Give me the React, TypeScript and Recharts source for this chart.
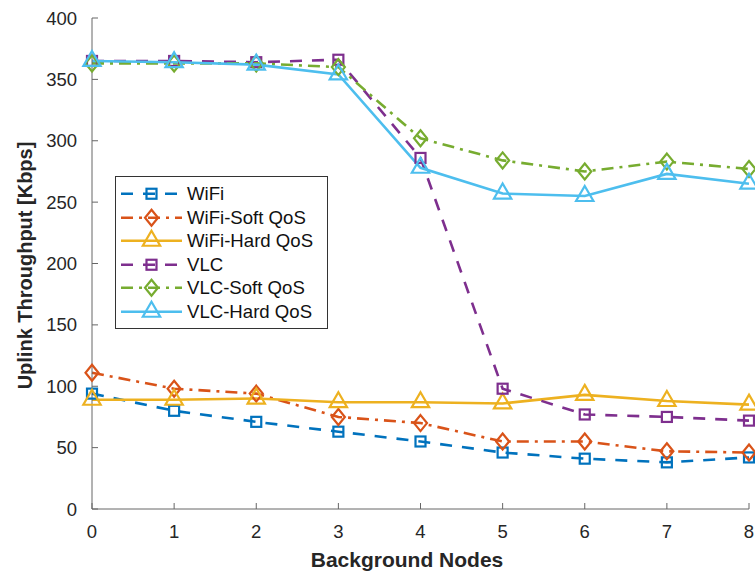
import React from 'react';
import { LineChart, Line, XAxis, YAxis, Legend } from 'recharts';

const nodes = [0, 1, 2, 3, 4, 5, 6, 7, 8];
const wifi = [94, 80, 71, 63, 55, 46, 41, 38, 42];
const wifiSoft = [111, 98, 94, 75, 70, 55, 55, 47, 46];
const wifiHard = [89, 89, 90, 87, 87, 86, 93, 88, 85];
const vlc = [365, 365, 364, 366, 286, 98, 77, 75, 72];
const vlcSoft = [363, 363, 363, 360, 302, 284, 275, 283, 277];
const vlcHard = [365, 364, 362, 354, 278, 257, 255, 273, 265];

const xTicks = [0, 1, 2, 3, 4, 5, 6, 7, 8];
const yTicks = [0, 50, 100, 150, 200, 250, 300, 350, 400];

const seriesNames = ['WiFi', 'WiFi-Soft QoS', 'WiFi-Hard QoS', 'VLC', 'VLC-Soft QoS', 'VLC-Hard QoS'];
const seriesKeys = ['wifi', 'wifiSoft', 'wifiHard', 'vlc', 'vlcSoft', 'vlcHard'];
const seriesValues = [wifi, wifiSoft, wifiHard, vlc, vlcSoft, vlcHard];
const seriesColors = ['#0072BD', '#D95319', '#EDB120', '#7E2F8E', '#77AC30', '#4DBEEE'];
const seriesDash = ['12 10', '12 6 3 6', undefined, '12 10', '12 6 3 6', undefined];
const seriesMarker = ['square', 'diamond', 'triangle', 'square', 'diamond', 'triangle'];

const data = nodes.map((n, i) => {
  const row: any = { n };
  seriesKeys.forEach((k, j) => {
    row[k] = seriesValues[j][i];
  });
  return row;
});

const FONT = '"Liberation Sans", Arial, Helvetica, sans-serif';

function Marker({ shape, cx, cy, color }: { shape: string; cx: number; cy: number; color: string }) {
  const sw = 2.2;
  if (shape === 'square') {
    const h = 5;
    return <rect x={cx - h} y={cy - h} width={2 * h} height={2 * h} fill="none" stroke={color} strokeWidth={sw} />;
  }
  if (shape === 'diamond') {
    const h = 8;
    const w = 6.5;
    return (
      <polygon
        points={`${cx},${cy - h} ${cx + w},${cy} ${cx},${cy + h} ${cx - w},${cy}`}
        fill="none"
        stroke={color}
        strokeWidth={sw}
      />
    );
  }
  const r = 10;
  return (
    <polygon
      points={`${cx},${cy - r} ${cx + r * 0.866},${cy + r * 0.5} ${cx - r * 0.866},${cy + r * 0.5}`}
      fill="none"
      stroke={color}
      strokeWidth={sw}
    />
  );
}

function LegendBox() {
  return (
    <div
      style={{
        width: 211,
        height: 146,
        border: '1px solid #333',
        background: '#fff',
        paddingTop: 5,
        boxSizing: 'content-box',
        fontFamily: FONT,
        fontSize: 18.6,
        color: '#111',
      }}
    >
      {seriesNames.map((name, i) => (
        <div key={name} style={{ height: 23.5, display: 'flex', alignItems: 'center' }}>
          <svg width={71} height={23.5} style={{ display: 'block', overflow: 'visible' }}>
            <line
              x1={5}
              x2={66}
              y1={11.75}
              y2={11.75}
              stroke={seriesColors[i]}
              strokeWidth={2.5}
              strokeDasharray={seriesDash[i]}
            />
            <Marker shape={seriesMarker[i]} cx={35.5} cy={11.75} color={seriesColors[i]} />
          </svg>
          <span style={{ whiteSpace: 'nowrap', lineHeight: '23.5px' }}>{name}</span>
        </div>
      ))}
    </div>
  );
}

export default function App() {
  return (
    <div style={{ position: 'absolute', left: 0, top: 0, width: 755, height: 573, background: '#fff' }}>
      <LineChart
        width={755}
        height={573}
        data={data}
        margin={{ top: 18, right: 6, left: 32, bottom: 24 }}
        style={{ fontFamily: FONT }}
      >
        <XAxis
          dataKey="n"
          type="number"
          domain={[0, 8]}
          ticks={xTicks}
          interval={0}
          height={40}
          tickSize={-6}
          tickMargin={22}
          stroke="#666"
          tick={{ fill: '#262626', fontSize: 18.5, fontFamily: FONT }}
          label={{
            content: () => (
              <text
                x={407}
                y={559}
                textAnchor="middle"
                dominantBaseline="central"
                fontFamily={FONT}
                fontSize={21}
                fontWeight="bold"
                fill="#262626"
              >
                Background Nodes
              </text>
            ),
          }}
        />
        <XAxis
          xAxisId="top"
          dataKey="n"
          type="number"
          orientation="top"
          domain={[0, 8]}
          ticks={xTicks}
          interval={0}
          height={0}
          tickSize={-6}
          stroke="#666"
          tick={false}
        />
        <YAxis
          type="number"
          domain={[0, 400]}
          ticks={yTicks}
          interval={0}
          width={60}
          tickSize={-6}
          tickMargin={21}
          stroke="#666"
          tick={{ fill: '#262626', fontSize: 18.5, fontFamily: FONT }}
          label={{
            content: (p: any) => {
              const vb = p.viewBox || { y: 18, height: 491 };
              const cy = vb.y + vb.height / 2 + 2;
              return (
                <text
                  x={25}
                  y={cy}
                  transform={`rotate(-90 25 ${cy})`}
                  textAnchor="middle"
                  dominantBaseline="central"
                  fontFamily={FONT}
                  fontSize={20}
                  fontWeight="bold"
                  fill="#262626"
                >
                  Uplink Throughput [Kbps]
                </text>
              );
            },
          }}
        />
        <YAxis
          yAxisId="right"
          type="number"
          orientation="right"
          domain={[0, 400]}
          ticks={yTicks}
          interval={0}
          width={0}
          tickSize={-6}
          stroke="#666"
          tick={false}
        />
        {seriesKeys.map((k, i) => (
          <Line
            key={k}
            dataKey={k}
            name={seriesNames[i]}
            type="linear"
            stroke={seriesColors[i]}
            strokeWidth={2.6}
            strokeDasharray={seriesDash[i]}
            isAnimationActive={false}
            activeDot={false}
            dot={(p: any) => (
              <Marker key={`${k}-${p.index}`} shape={seriesMarker[i]} cx={p.cx} cy={p.cy} color={seriesColors[i]} />
            )}
          />
        ))}
        <Legend
          layout="vertical"
          align="center"
          verticalAlign="middle"
          content={() => <LegendBox />}
          wrapperStyle={{ position: 'absolute', left: 115, top: 176, width: 'auto', height: 'auto' }}
        />
      </LineChart>
    </div>
  );
}
